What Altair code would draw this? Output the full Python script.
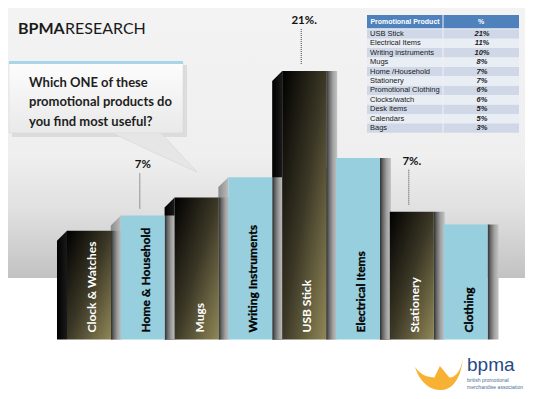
import altair as alt
import pandas as pd

# ---------------- data ----------------
categories = ["Clock & Watches", "Home & Household", "Mugs", "Writing Instruments",
              "USB Stick", "Electrical Items", "Stationery", "Clothing"]
bar_tone = ["dark", "light", "dark", "light", "dark", "light", "dark", "light"]
# bar heights as drawn in the picture, read in % units (USB Stick = 21)
bar_height = [8.5, 9.7, 11.1, 12.7, 21.0, 14.2, 10.0, 9.0]
callouts = ["", "7%", "", "", "21%.", "", "7%.", ""]

table_products = ["USB Stick", "Electrical Items", "Writing instruments", "Mugs",
                  "Home /Household", "Stationery", "Promotional Clothing",
                  "Clocks/watch", "Desk items", "Calendars", "Bags"]
table_pct = [21, 11, 10, 8, 7, 7, 6, 6, 5, 5, 3]

question_lines = ["Which ONE of these", "promotional products do", "you find most useful?"]

# ---------------- geometry constants ----------------
W, H = 517, 383
HW = 0.409      # half bar width (index units)
SW = 0.186      # left side face width
STRIP = 0.204   # right shaded strip width
DROP = 0.78     # slant of the side face top

XS = alt.Scale(domain=[-1.5056, 8.104], nice=False, zero=False)
YS = alt.Scale(domain=[-4.03, 25.93], nice=False, zero=False)
TS = alt.Scale(domain=[0, 11], range=[21.3, 124.7], nice=False, zero=False)

bars = pd.DataFrame({"i": range(len(categories)), "cat": categories,
                     "tone": bar_tone, "h": bar_height, "callout": callouts})
bars["x0"] = bars["i"] - HW
bars["x1"] = bars["i"] + HW
bars["xs"] = bars["x1"] + STRIP
bars["base"] = 0.0

left_rows = []
for _, r in bars.iterrows():
    left_rows.append({"cat": r["cat"], "tone": r["tone"], "lx": r["x0"] - SW, "ly": r["h"] - DROP, "base": 0.0})
    left_rows.append({"cat": r["cat"], "tone": r["tone"], "lx": r["x0"], "ly": r["h"], "base": 0.0})
left = pd.DataFrame(left_rows)

table = pd.DataFrame({"r": range(len(table_products)), "product": table_products,
                      "pct": [f"{v}%" for v in table_pct]})
table["r1"] = table["r"] + 1
table["rc"] = table["r"] + 0.5
table["odd"] = table["r"] % 2

one = pd.DataFrame({"a": [0]})


def grad(stops, x1=0, y1=0, x2=1, y2=0):
    return alt.LinearGradient(gradient="linear",
                              stops=[alt.GradientStop(color=c, offset=o) for o, c in stops],
                              x1=x1, y1=y1, x2=x2, y2=y2)


def box(x, x2, y, y2, **mk):
    return alt.Chart(one).mark_rect(**mk).encode(
        x=alt.value(x), x2=alt.value(x2), y=alt.value(y), y2=alt.value(y2))


layers = []

# background
layers.append(box(0, W, 0, 270, color=grad([(0, "#f3f3f3"), (0.55, "#efefef"), (0.75, "#e0e0e0"), (1, "#c2c2c2")],
                                            x1=0, y1=0, x2=0, y2=1)))

# left side faces
for tone, col in [("dark", grad([(0, "#000000"), (1, "#1a1a1a")])),
                  ("light", grad([(0, "#8a8a8a"), (1, "#bdbdbd")]))]:
    layers.append(alt.Chart(left).transform_filter(alt.datum.tone == tone).mark_area(color=col).encode(
        x=alt.X("lx:Q", scale=XS, axis=None),
        y=alt.Y("ly:Q", scale=YS, axis=None),
        y2="base:Q",
        detail="cat:N"))

# right shaded strips
layers.append(alt.Chart(bars).mark_rect(
    color=grad([(0, "#2e2e2e"), (0.25, "#666666"), (0.6, "#a0a0a0"), (1, "#c4c4c4")])).encode(
    x=alt.X("x1:Q", scale=XS, axis=None), x2="xs:Q",
    y=alt.Y("h:Q", scale=YS, axis=None), y2="base:Q"))

# front faces
layers.append(alt.Chart(bars).transform_filter(alt.datum.tone == "dark").mark_rect(
    color=grad([(0, "#000000"), (0.5, "#3c3826"), (1, "#8f8757")], x1=0, y1=0, x2=1, y2=1)).encode(
    x=alt.X("x0:Q", scale=XS, axis=None), x2="x1:Q",
    y=alt.Y("h:Q", scale=YS, axis=None), y2="base:Q"))
layers.append(alt.Chart(bars).transform_filter(alt.datum.tone == "light").mark_rect(color="#97cfde").encode(
    x=alt.X("x0:Q", scale=XS, axis=None), x2="x1:Q",
    y=alt.Y("h:Q", scale=YS, axis=None), y2="base:Q"))

# rotated labels (white on dark bars, black on light bars)
layers.append(alt.Chart(bars).transform_filter("datum.tone == 'dark'").mark_text(
    angle=270, align="left", baseline="middle", font="Lato", fontWeight="bold",
    fontSize=12, yOffset=-7, xOffset=3, fill="#ffffff").encode(
    x=alt.X("i:Q", scale=XS, axis=None),
    y=alt.Y("base:Q", scale=YS, axis=None),
    text="cat:N"))
layers.append(alt.Chart(bars).transform_filter("datum.tone == 'light'").mark_text(
    angle=270, align="left", baseline="middle", font="Lato", fontWeight="bold",
    fontSize=12, yOffset=-7, xOffset=3, fill="#000000", stroke="#000000", strokeWidth=0.3).encode(
    x=alt.X("i:Q", scale=XS, axis=None),
    y=alt.Y("base:Q", scale=YS, axis=None),
    text="cat:N"))

# callouts
layers.append(alt.Chart(bars).transform_filter(alt.datum.callout != "").mark_rule(
    strokeDash=[1, 1], color="#444444", strokeWidth=1, yOffset=-7, y2Offset=-42, xOffset=-3).encode(
    x=alt.X("i:Q", scale=XS, axis=None),
    y=alt.Y("h:Q", scale=YS, axis=None), y2="h:Q"))
layers.append(alt.Chart(bars).transform_filter(alt.datum.callout != "").mark_text(
    font="Lato", fontWeight="bold", fontSize=11.5, color="#111111", yOffset=-50, baseline="middle").encode(
    x=alt.X("i:Q", scale=XS, axis=None),
    y=alt.Y("h:Q", scale=YS, axis=None), text="callout:N"))

# speech bubble
layers.append(box(4, 179, 57, 129, color="#cfcfcf", opacity=0.6))
tri = pd.DataFrame({"px": [102, 152, 189], "py": [124, 124, 164], "py2": [124, 147.4, 164]})
layers.append(alt.Chart(tri).mark_area(color="#e6e6e6", stroke="#d0d0d0", strokeWidth=0.5).encode(
    x=alt.X("px:Q", scale=None), y=alt.Y("py:Q", scale=None), y2="py2:Q"))
layers.append(box(1, 175, 54, 125, color=grad([(0, "#fdfdfd"), (1, "#e9e9e9")], x1=0, y1=0, x2=0, y2=1),
                  stroke="#d6d6d6", strokeWidth=0.5))
layers.append(box(1, 175, 53, 56, color="#a8d5e8"))
layers.append(alt.Chart(pd.DataFrame({"t": ["\n".join(question_lines)]})).mark_text(
    align="left", baseline="alphabetic", lineBreak="\n", lineHeight=19.5, font="Lato",
    fontWeight="bold", fontSize=13, color="#1e1e1e").encode(
    x=alt.value(21), y=alt.value(78.5), text="t:N"))

# title
layers.append(alt.Chart(one).mark_text(align="left", baseline="alphabetic", font="Lato", fontWeight="bold",
                                       fontSize=16, color="#1a1a1a", text="BPMA").encode(
    x=alt.value(10), y=alt.value(25.5)))
layers.append(alt.Chart(one).mark_text(align="left", baseline="alphabetic", font="Lato",
                                       fontSize=16, color="#1a1a1a", text="RESEARCH").encode(
    x=alt.value(57), y=alt.value(25.5)))

# table
layers.append(box(359, 434.5, 7, 20.3, color="#4f81bd"))
layers.append(box(435.5, 511, 7, 20.3, color="#4f81bd"))
for odd, col in [(0, "#d0d8e8"), (1, "#e9edf4")]:
    for xa, xb in [(359, 434.5), (435.5, 511)]:
        layers.append(alt.Chart(table).transform_filter(alt.datum.odd == odd).mark_rect(
            color=col, x=xa, x2=xb).encode(
            y=alt.Y("r:Q", scale=TS, axis=None), y2="r1:Q"))
layers.append(alt.Chart(one).mark_text(font="Liberation Sans", fontWeight="bold", fontSize=7,
                                       color="#ffffff", text="Promotional Product", baseline="middle").encode(
    x=alt.value(397), y=alt.value(13.8)))
layers.append(alt.Chart(one).mark_text(font="Liberation Sans", fontWeight="bold", fontSize=7,
                                       color="#ffffff", text="%", baseline="middle").encode(
    x=alt.value(473), y=alt.value(13.8)))
layers.append(alt.Chart(table).mark_text(font="Liberation Sans", fontSize=7.5, color="#1a1a1a",
                                         align="left", baseline="middle", x=362).encode(
    y=alt.Y("rc:Q", scale=TS, axis=None), text="product:N"))
layers.append(alt.Chart(table).mark_text(font="Liberation Sans", fontSize=7.5, fontWeight="bold",
                                         fontStyle="italic", color="#1a1a1a", baseline="middle", x=474).encode(
    y=alt.Y("rc:Q", scale=TS, axis=None), text="pct:N"))

# logo
crown = ("M -1.04 -0.3 C -0.9 0.2 -0.5 0.7 0.04 0.7 C 0.6 0.7 0.95 0.2 1.04 -0.7 "
         "C 0.95 -0.1 0.7 0.15 0.45 0.15 L 0.04 -0.35 L -0.2 0.15 C -0.5 0.15 -0.8 0.05 -1.04 -0.3 Z")
layers.append(alt.Chart(one).mark_point(shape=crown, filled=True, color="#f8b233", size=2116,
                                        opacity=1, strokeWidth=0).encode(
    x=alt.value(431), y=alt.value(366)))
layers.append(alt.Chart(one).mark_text(font="Liberation Sans", fontSize=19, color="#254a85", text="bpma",
                                       align="left", baseline="alphabetic").encode(
    x=alt.value(459), y=alt.value(363)))
layers.append(alt.Chart(one).mark_text(font="Liberation Sans", fontSize=5.1, color="#4a6a9a",
                                       text="british promotional", align="left", baseline="middle").encode(
    x=alt.value(459), y=alt.value(372)))
layers.append(alt.Chart(one).mark_text(font="Liberation Sans", fontSize=5.1, color="#4a6a9a",
                                       text="merchandise association", align="left", baseline="middle").encode(
    x=alt.value(459), y=alt.value(379)))

chart = alt.layer(*layers).resolve_scale(x="independent", y="independent").properties(
    width=W, height=H, padding=0, background="#ffffff",
    autosize=alt.AutoSizeParams(type="none")).configure_view(stroke=None)

chart.save("out.html", embed_options={"renderer": "svg", "actions": False})
